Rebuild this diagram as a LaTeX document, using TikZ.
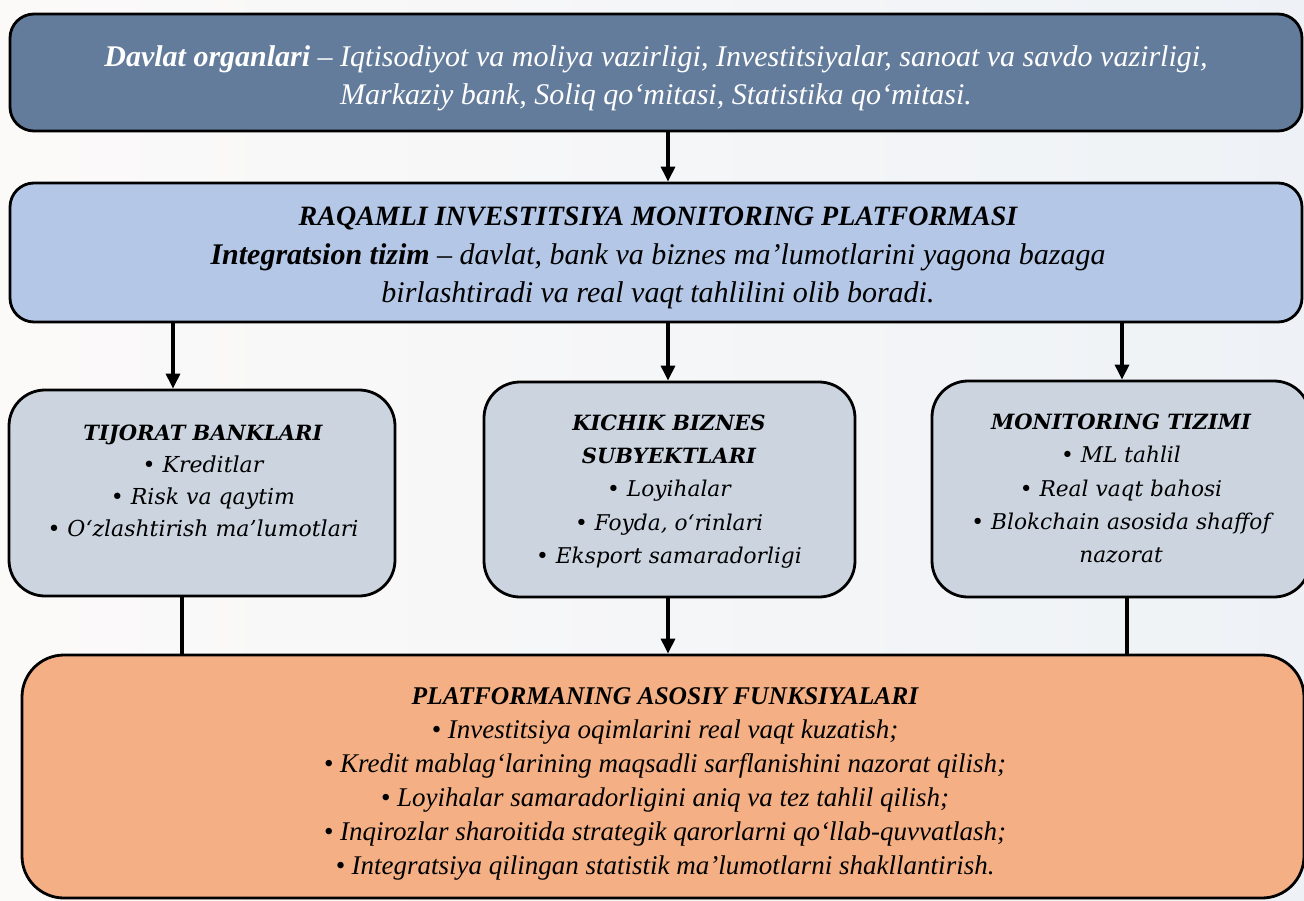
\documentclass[tikz,border=0pt]{standalone}
\usepackage{fontspec}
\setmainfont{Liberation Serif}
\newfontfamily\dejav{DejaVu Serif}
\usetikzlibrary{arrows.meta}
\definecolor{topfill}{HTML}{647C9B}
\definecolor{midfill}{HTML}{B4C7E7}
\definecolor{boxfill}{HTML}{CBD4DF}
\definecolor{botfill}{HTML}{F4B084}
\definecolor{bgleft}{HTML}{FCFAF9}
\definecolor{bgright}{HTML}{EEF2F6}
\tikzset{
  x=1pt, y=-1pt,
  box/.style={draw=black, line width=2.8pt, rectangle, inner sep=0pt},
  conn/.style={line width=3.2pt},
  arr/.style={line width=3.2pt, -{Triangle[length=15pt,width=14pt]}},
  txt/.style={align=center, inner sep=0pt},
}
\begin{document}
\begin{tikzpicture}
\useasboundingbox (0,0) rectangle (1304,900);
\fill[left color=bgleft, right color=bgright] (0,0) rectangle (1304,900);

% boxes
\node[box, fill=topfill, rounded corners=24pt, minimum width=1292pt, minimum height=117pt] (top) at (656,72.5) {};
\node[box, fill=midfill, rounded corners=24pt, minimum width=1292pt, minimum height=139pt] (mid) at (656,252.5) {};
\node[box, fill=boxfill, rounded corners=36pt, minimum width=386pt, minimum height=206pt] (tb) at (202,493) {};
\node[box, fill=boxfill, rounded corners=36pt, minimum width=371pt, minimum height=215pt] (kb) at (669.5,489.5) {};
\node[box, fill=boxfill, rounded corners=36pt, minimum width=378pt, minimum height=216pt] (mt) at (1121,489) {};
\node[box, fill=botfill, rounded corners=42pt, minimum width=1282pt, minimum height=243pt] (bot) at (663,776.5) {};

% texts
\node[txt, text=white, font=\fontsize{30}{38}\selectfont\itshape] (toptxt) at (656,78.5)
  {\textbf{Davlat organlari} – Iqtisodiyot va moliya vazirligi, Investitsiyalar, sanoat va savdo vazirligi,\\
   Markaziy bank, Soliq qo‘mitasi, Statistika qo‘mitasi.};
\node[txt, font=\fontsize{30}{38.5}\selectfont\itshape] (midtxt) at (658,258)
  {{\fontsize{28}{38.5}\selectfont\textbf{RAQAMLI INVESTITSIYA MONITORING PLATFORMASI}}\\
   \textbf{Integratsion tizim} – davlat, bank va biznes ma’lumotlarini yagona bazaga\\
   birlashtiradi va real vaqt tahlilini olib boradi.};
\node[txt, font=\dejav\fontsize{22}{32}\selectfont\itshape] (tbtxt) at (203,481)
  {{\fontsize{21}{32}\selectfont\textbf{TIJORAT BANKLARI}}\\
   • Kreditlar\\
   • Risk va qaytim\\
   • O‘zlashtirish ma’lumotlari};
\node[txt, font=\dejav\fontsize{21.7}{33.3}\selectfont\itshape] (kbtxt) at (669,491.5)
  {{\fontsize{21}{33.3}\selectfont\textbf{KICHIK BIZNES}}\\
   {\fontsize{21}{33.3}\selectfont\textbf{SUBYEKTLARI}}\\
   • Loyihalar\\
   • Foyda, o‘rinlari\\
   • Eksport samaradorligi};
\node[txt, font=\dejav\fontsize{21.7}{33.3}\selectfont\itshape] (mttxt) at (1121,488.5)
  {{\fontsize{21}{33.3}\selectfont\textbf{MONITORING TIZIMI}}\\
   • ML tahlil\\
   • Real vaqt bahosi\\
   • Blokchain asosida shaffof\\
   nazorat};
\node[txt, font=\fontsize{27}{34}\selectfont\itshape] (bottxt) at (665,784)
  {{\fontsize{25.5}{34}\selectfont\textbf{PLATFORMANING ASOSIY FUNKSIYALARI}}\\
   • Investitsiya oqimlarini real vaqt kuzatish;\\
   • Kredit mablag‘larining maqsadli sarflanishini nazorat qilish;\\
   • Loyihalar samaradorligini aniq va tez tahlil qilish;\\
   • Inqirozlar sharoitida strategik qarorlarni qo‘llab-quvvatlash;\\
   • Integratsiya qilingan statistik ma’lumotlarni shakllantirish.};

% connector x positions
\coordinate (xc) at (668,0);
\coordinate (xl) at (173,0);
\coordinate (xr) at (1122,0);
\coordinate (xbl) at (182,0);
\coordinate (xbr) at (1127,0);

\draw[arr] (top.south -| xc) -- (mid.north -| xc);
\draw[arr] (mid.south -| xl) -- (tb.north -| xl);
\draw[arr] (mid.south -| xc) -- (kb.north -| xc);
\draw[arr] (mid.south -| xr) -- (mt.north -| xr);
\draw[conn] (tb.south -| xbl) -- (bot.north -| xbl);
\draw[arr] (kb.south -| xc) -- (bot.north -| xc);
\draw[conn] (mt.south -| xbr) -- (bot.north -| xbr);
\end{tikzpicture}
\end{document}
